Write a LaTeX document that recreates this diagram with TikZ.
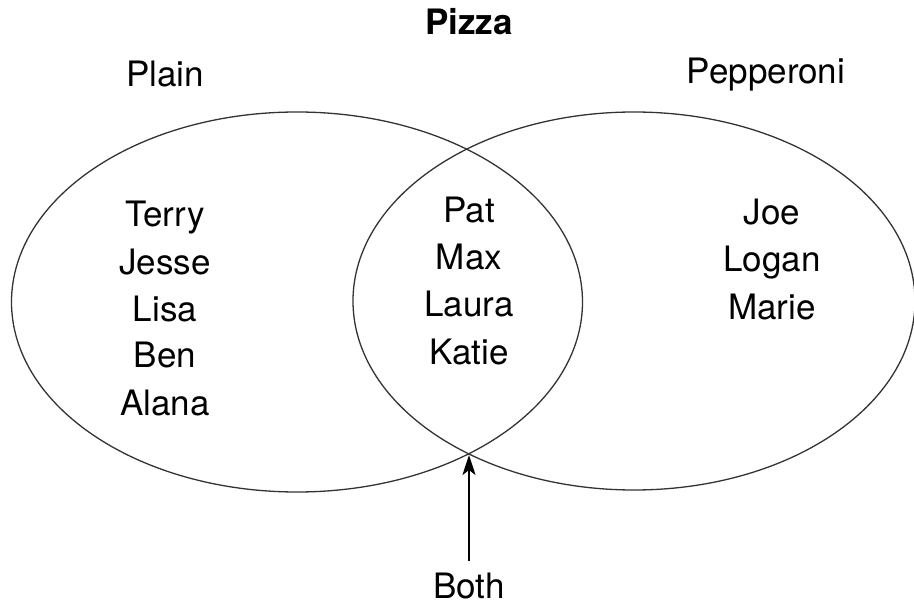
\documentclass[tikz,border=0pt]{standalone}
\usepackage{fontspec}
\setmainfont{TeX Gyre Heros}
\usetikzlibrary{arrows.meta,shapes.geometric}

\tikzset{
  person/.style={font=\fontsize{35}{42}\selectfont, anchor=base, inner sep=0pt},
  heading/.style={font=\fontsize{35}{42}\selectfont\bfseries, anchor=base, inner sep=0pt},
  set/.style={draw=black!80, line width=1.3pt, ellipse, inner sep=0pt},
  pointer/.style={line width=2.3pt, -{Stealth[length=20pt, width=13pt, inset=5pt]}, shorten <=11pt}
}

\begin{document}
\begin{tikzpicture}[x=1pt, y=-1pt]
  \useasboundingbox (0,0) rectangle (914,604);

  % the two sets
  \node [set, minimum width=571pt, minimum height=380pt] at (297,302) (plain) {};
  \node [set, minimum width=562pt, minimum height=378pt] at (634,301) (pepperoni) {};
  \coordinate (cross) at (469,455);

  % labels
  \node [heading] at (469,35) (title) {Pizza};
  \node [person] at (165,87) (plainlabel) {Plain};
  \node [person] at (766,84) (pepplabel) {Pepperoni};
  \node [person] at (469,598) (both) {Both};

  % plain only
  \node [person] at (165,227) (terry) {Terry};
  \node [person] at (165,275) (jesse) {Jesse};
  \node [person] at (165,322) (lisa) {Lisa};
  \node [person] at (165,368) (ben) {Ben};
  \node [person] at (165,415) (alana) {Alana};

  % both kinds
  \node [person] at (469,223) (pat) {Pat};
  \node [person] at (469,270) (max) {Max};
  \node [person] at (469,317) (laura) {Laura};
  \node [person] at (469,364) (katie) {Katie};

  % pepperoni only
  \node [person] at (772,225) (joe) {Joe};
  \node [person] at (772,272) (logan) {Logan};
  \node [person] at (772,320) (marie) {Marie};

  \draw [pointer] (both.north) -- (cross);
\end{tikzpicture}
\end{document}
